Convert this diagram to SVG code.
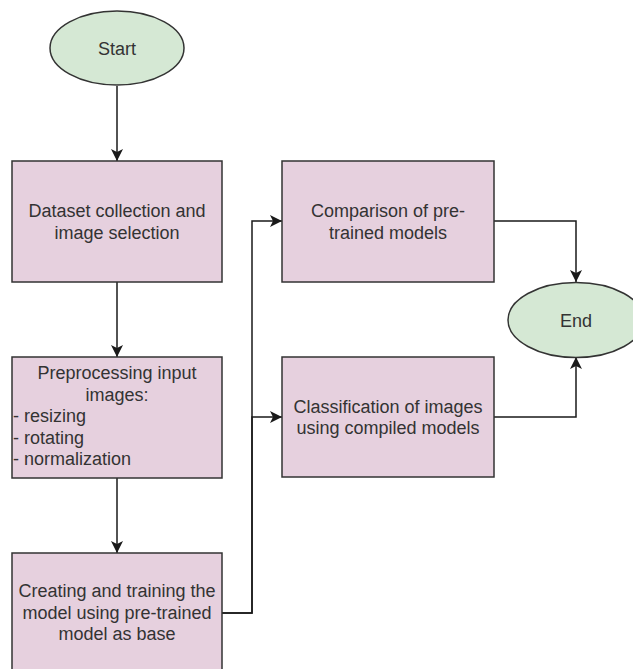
<svg xmlns="http://www.w3.org/2000/svg" width="633" height="669" viewBox="0 0 633 669">
  <style>
    .box { fill: #e6d0de; stroke: #333333; stroke-width: 1.5; }
    .term { fill: #d5e8d4; stroke: #333333; stroke-width: 1.5; }
    .lbl { font-family: "Liberation Sans", Arial, sans-serif; font-size: 18px; fill: #333333; }
    .mid { text-anchor: middle; }
    .edge { fill: none; stroke: #1a1a1a; stroke-width: 1.5; marker-end: url(#arrow); }
  </style>
  <defs>
    <marker id="arrow" viewBox="0 0 12 12" refX="12" refY="6" markerWidth="12" markerHeight="12" markerUnits="userSpaceOnUse" orient="auto">
      <path d="M0,0 L12,6 L0,12 L3,6 z" fill="#1a1a1a"/>
    </marker>
  </defs>
  <rect width="633" height="669" fill="#ffffff"/>

  <g id="connectors">
    <path class="edge" d="M117,86 V161"/>
    <path class="edge" d="M117,282 V357"/>
    <path class="edge" d="M117,478 V553"/>
    <path class="edge" d="M222,613 H252 V221 H282"/>
    <path class="edge" d="M222,613 H252 V417 H282"/>
    <path class="edge" d="M494,221 H576 V282"/>
    <path class="edge" d="M494,417 H576 V357"/>
  </g>

  <g id="start">
    <ellipse class="term" cx="117" cy="48" rx="67" ry="37"/>
    <text class="lbl mid" x="117" y="54.5">Start</text>
  </g>

  <g id="dataset">
    <rect class="box" x="12" y="161" width="210" height="121"/>
    <text class="lbl mid" x="117" y="217">Dataset collection and</text>
    <text class="lbl mid" x="117" y="238.6">image selection</text>
  </g>

  <g id="preprocessing">
    <rect class="box" x="12" y="357" width="210" height="121"/>
    <text class="lbl mid" x="117" y="379">Preprocessing input</text>
    <text class="lbl mid" x="117" y="400.6">images:</text>
    <text class="lbl" x="13" y="422.2">- resizing</text>
    <text class="lbl" x="13" y="443.8">- rotating</text>
    <text class="lbl" x="13" y="465.4">- normalization</text>
  </g>

  <g id="training">
    <rect class="box" x="12" y="553" width="210" height="121"/>
    <text class="lbl mid" x="117" y="597">Creating and training the</text>
    <text class="lbl mid" x="117" y="618.6">model using pre-trained</text>
    <text class="lbl mid" x="117" y="640.2">model as base</text>
  </g>

  <g id="comparison">
    <rect class="box" x="282" y="161" width="212" height="121"/>
    <text class="lbl mid" x="388" y="217">Comparison of pre-</text>
    <text class="lbl mid" x="388" y="238.6">trained models</text>
  </g>

  <g id="classification">
    <rect class="box" x="282" y="357" width="212" height="120"/>
    <text class="lbl mid" x="388" y="412.5">Classification of images</text>
    <text class="lbl mid" x="388" y="434.1">using compiled models</text>
  </g>

  <g id="end">
    <ellipse class="term" cx="576" cy="320" rx="68" ry="37.5"/>
    <text class="lbl mid" x="576" y="326.5">End</text>
  </g>
</svg>
